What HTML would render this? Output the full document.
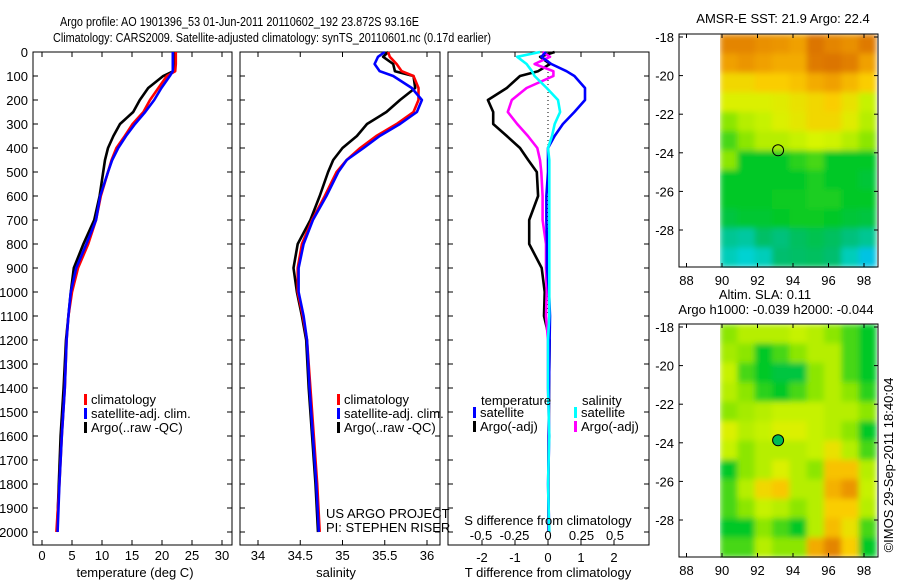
<!DOCTYPE html>
<html><head><meta charset="utf-8"><style>
html,body{margin:0;padding:0;background:#fff;}
svg{display:block;font-family:"Liberation Sans",sans-serif;}
text{font-size:13px;fill:#000;}
</style></head><body>
<svg id="fig" width="900" height="580" viewBox="0 0 900 580" xmlns="http://www.w3.org/2000/svg">
<defs>
<filter id="blur" x="0" y="0" width="1" height="1" filterUnits="objectBoundingBox"><feGaussianBlur stdDeviation="3" edgeMode="duplicate"/></filter>
</defs>
<text x="60" y="26" textLength="359" lengthAdjust="spacingAndGlyphs">Argo profile: AO 1901396_53 01-Jun-2011 20110602_192 23.872S 93.16E</text>
<text x="53" y="42" textLength="438" lengthAdjust="spacingAndGlyphs">Climatology: CARS2009. Satellite-adjusted climatology: synTS_20110601.nc (0.17d earlier)</text>
<g id="g"></g>
</svg>
<script>
// ---- data ----
const depthsUpper = [0,20,50,80,100,150,200,250,300,350,400,450,500,600,700,800,900,1000,1100];
const deepDepths = [1200,1400,1600,1800,2000];
const tempClim = [22.3,22.3,22.3,22.2,20.8,19.4,18,16.9,15.1,13.8,12.4,11.6,11,9.8,9,7.7,6,5,4.4];
const tempSat  = [21.8,21.8,21.8,21.8,21.3,19.9,18.7,17.2,15.5,14,12.7,11.7,11,9.7,9,7.4,5.7,4.8,4.4];
const tempArgo = [22.2,22.2,21.9,21.9,20.2,17.7,16.3,15.2,13,11.9,11,10.5,10.2,9.6,8.7,6.9,5.3,4.8,4.4];
const tempDeepClim = [4.1,3.8,3.3,2.9,2.4];
const tempDeepSat  = [4.1,3.8,3.3,2.9,2.6];
const tempDeepArgo = [4.0,3.6,3.1,2.8,2.5];
const salClim = [35.54,35.56,35.64,35.7,35.84,35.9,35.9,35.84,35.64,35.4,35.21,35.05,34.93,34.79,34.64,34.52,34.47,34.47,34.53];
const salSat  = [35.5,35.42,35.38,35.44,35.6,35.82,35.94,35.88,35.68,35.44,35.25,35.05,34.95,34.81,34.65,34.54,34.48,34.48,34.54];
const salArgo = [35.54,35.48,35.6,35.62,35.84,35.86,35.68,35.52,35.29,35.17,35.0,34.89,34.83,34.73,34.62,34.47,34.42,34.46,34.52];
const salDeepClim = [34.58,34.62,34.66,34.7,34.73];
const salDeepSat  = [34.58,34.61,34.65,34.69,34.72];
const salDeepArgo = [34.57,34.6,34.64,34.68,34.71];
const dTSat  = [-0.06,-0.2,0.1,0.56,0.8,1.12,1.12,0.8,0.45,0.2,0,0,0,-0.05,-0.05,-0.03,-0.03,0.03,0.06];
const dTArgo = [0.2,-0.24,0.06,-0.3,-0.85,-1.25,-1.82,-1.66,-1.66,-1.25,-0.85,-0.6,-0.34,-0.3,-0.57,-0.57,-0.19,-0.1,-0.12];
const dSSat  = [-0.06,-0.23,-0.16,-0.12,-0.1,-0.01,0.075,0.09,0.05,0.03,0,0.01,0.01,0.01,0.01,0.01,0.01,0.01,0.01];
const dSArgo = [-0.04,0.015,-0.1,0.04,0.04,-0.16,-0.27,-0.3,-0.23,-0.15,-0.08,-0.06,-0.05,-0.04,-0.04,-0.015,-0.015,-0.01,-0.015];
const dDeepT = [0.05,0.03,0.02,0.01,0.02];
const dDeepS = [0.0,0.0,0.01,0.0,0.01];
const depthTicks = [0,100,200,300,400,500,600,700,800,900,1000,1100,1200,1300,1400,1500,1600,1700,1800,1900,2000];
const tempTicks = [0,5,10,15,20,25,30];
const salTicks = [34,34.5,35,35.5,36];
const dTTicks = [-2,-1,0,1,2];
const dSTicks = [-0.5,-0.25,0,0.25,0.5];
const lonTicks = [88,90,92,94,96,98];
const latTicks = [-18,-20,-22,-24,-26,-28];
const sstGrid = [
[0.85,0.85,0.83,0.82,0.8,0.88,0.85,0.83,0.87],
[0.8,0.82,0.8,0.78,0.78,0.87,0.88,0.86,0.8],
[0.7,0.7,0.72,0.72,0.74,0.78,0.8,0.76,0.72],
[0.65,0.65,0.65,0.66,0.68,0.7,0.72,0.68,0.62],
[0.55,0.6,0.62,0.65,0.67,0.7,0.7,0.66,0.6],
[0.5,0.55,0.6,0.6,0.62,0.64,0.63,0.6,0.55],
[0.55,0.45,0.45,0.45,0.48,0.5,0.45,0.45,0.45],
[0.45,0.45,0.45,0.45,0.45,0.47,0.45,0.45,0.43],
[0.45,0.45,0.45,0.46,0.46,0.47,0.47,0.45,0.45],
[0.42,0.44,0.44,0.45,0.46,0.46,0.45,0.43,0.42],
[0.33,0.32,0.37,0.35,0.38,0.4,0.38,0.35,0.33],
[0.3,0.28,0.3,0.36,0.37,0.38,0.36,0.3,0.25]];
const slaGrid = [
[0.55,0.6,0.6,0.6,0.62,0.6,0.55,0.5,0.45],
[0.58,0.55,0.45,0.5,0.55,0.6,0.6,0.5,0.45],
[0.62,0.5,0.45,0.42,0.42,0.55,0.6,0.5,0.45],
[0.6,0.55,0.48,0.45,0.5,0.55,0.6,0.55,0.48],
[0.55,0.58,0.6,0.62,0.62,0.62,0.6,0.6,0.55],
[0.65,0.6,0.62,0.65,0.65,0.62,0.6,0.55,0.45],
[0.62,0.55,0.6,0.6,0.6,0.62,0.68,0.6,0.5],
[0.45,0.55,0.6,0.65,0.6,0.55,0.74,0.74,0.6],
[0.5,0.6,0.7,0.73,0.6,0.6,0.77,0.82,0.62],
[0.5,0.55,0.62,0.6,0.55,0.6,0.72,0.72,0.6],
[0.45,0.45,0.55,0.5,0.45,0.6,0.75,0.68,0.5],
[0.5,0.5,0.6,0.55,0.55,0.78,0.85,0.72,0.45]];
const argoLon = 93.16, argoLat = -23.87;

// ---- helpers ----
const NS = "http://www.w3.org/2000/svg";
const G = document.getElementById('g');
function mk(tag, attrs, parent){
  const e = document.createElementNS(NS, tag);
  for (const k in attrs) e.setAttribute(k, attrs[k]);
  (parent||G).appendChild(e); return e;
}
const TOP = 52, BOT = 545;
const yD = d => TOP + d*0.24;
const xT = v => 42 + v*6;
const xS = v => 258 + (v-34)*84.5;
const xDT = v => 548 + v*33;
const xDS = v => 548 + v*134;

function box(x0,x1,name){
  const r = mk('rect',{x:x0,y:TOP,width:x1-x0,height:BOT-TOP,fill:'none',stroke:'#000','stroke-width':1});
  
  
  depthTicks.forEach(d=>{
    mk('line',{x1:x0,x2:x0+5,y1:yD(d),y2:yD(d),stroke:'#000'});
    mk('line',{x1:x1,x2:x1-5,y1:yD(d),y2:yD(d),stroke:'#000'});
  });
}
function xticks(vals, f, x0, x1, labelY, name){
  vals.forEach(v=>{
    const x = f(v);
    mk('line',{x1:x,x2:x,y1:TOP,y2:TOP+5,stroke:'#000'});
    mk('line',{x1:x,x2:x,y1:BOT,y2:BOT-5,stroke:'#000'});
    if(labelY){
      const t = mk('text',{x:x,y:labelY,'text-anchor':'middle'});
      t.textContent = String(v);
      
      
    }
  });
}
function line(vals, deep, depths, f, color, name){
  const all = vals.concat(deep), ds = depths.concat(deepDepths);
  const pts = all.map((v,i)=>f(v).toFixed(1)+','+yD(ds[i]).toFixed(1)).join(' ');
  const p = mk('polyline',{points:pts,fill:'none',stroke:color,'stroke-width':2.6,'stroke-linejoin':'round'});
  
  
}
function legend(x, y, items){
  items.forEach((it,i)=>{
    mk('rect',{x:x,y:y+i*14-6,width:3,height:11,fill:it[0]});
    const t = mk('text',{x:x+7,y:y+i*14+4});
    t.textContent = it[1];
    
    
  });
}
function txt(x,y,s,name,anchor){
  const t = mk('text',{x:x,y:y,'text-anchor':anchor||'start'});
  t.textContent = s;
  
  
  return t;
}

// ---- panel 1: temperature ----
box(33,232,'temperature-panel');
depthTicks.forEach(d=>{
  const t = mk('text',{x:28,y:yD(d)+5,'text-anchor':'end'});
  t.textContent = String(d);
  
  
});
xticks(tempTicks, xT, 33, 232, 560, 'temperature-tick-label');
line(tempArgo, tempDeepArgo, depthsUpper, xT, '#000', 'temperature-argo-line');
line(tempClim, tempDeepClim, depthsUpper, xT, '#f00', 'temperature-climatology-line');
line(tempSat, tempDeepSat, depthsUpper, xT, '#00f', 'temperature-satellite-line');
legend(84, 400, [['#f00','climatology'],['#00f','satellite-adj. clim.'],['#000','Argo(..raw -QC)']]);
txt(135,577,'temperature (deg C)','temperature-axis-title','middle');

// ---- panel 2: salinity ----
box(240,440,'salinity-panel');
xticks(salTicks, xS, 240, 440, 560, 'salinity-tick-label');
line(salArgo, salDeepArgo, depthsUpper, xS, '#000', 'salinity-argo-line');
line(salClim, salDeepClim, depthsUpper, xS, '#f00', 'salinity-climatology-line');
line(salSat, salDeepSat, depthsUpper, xS, '#00f', 'salinity-satellite-line');
legend(337, 400, [['#f00','climatology'],['#00f','satellite-adj. clim.'],['#000','Argo(..raw -QC)']]);
txt(326,518,'US ARGO PROJECT','project-label');
txt(326,532,'PI: STEPHEN RISER','pi-label');
txt(336,577,'salinity','salinity-axis-title','middle');

// ---- panel 3: differences ----
box(448,649,'difference-panel');
dTTicks.forEach(v=>{
  const x=xDT(v);
  mk('line',{x1:x,x2:x,y1:TOP,y2:TOP+5,stroke:'#000'});
  mk('line',{x1:x,x2:x,y1:BOT,y2:BOT-5,stroke:'#000'});
  txt(x,562,String(v),'t-diff-tick-label','middle');
});
mk('line',{x1:548,x2:548,y1:TOP,y2:yD(1100),stroke:'#000','stroke-dasharray':'1,3'});
line(dTArgo, dDeepT, depthsUpper, xDT, '#000', 't-diff-argo-line');
line(dSArgo, dDeepS, depthsUpper, xDS, '#f0f', 's-diff-argo-line');
line(dTSat, dDeepT, depthsUpper, xDT, '#00f', 't-diff-satellite-line');
line(dSSat, dDeepS, depthsUpper, xDS, '#0ff', 's-diff-satellite-line');
txt(481,405,'temperature','legend-temperature-heading');
txt(582,405,'salinity','legend-salinity-heading');
legend(473, 413, [['#00f','satellite'],['#000','Argo(-adj)']]);
legend(574, 413, [['#0ff','satellite'],['#f0f','Argo(-adj)']]);
txt(548,525,'S difference from climatology','s-diff-axis-title','middle');
dSTicks.forEach(v=>{ txt(xDS(v),540,String(v),'s-diff-tick-label','middle'); });
txt(548,577,'T difference from climatology','t-diff-axis-title','middle');

// ---- maps ----
const stops = [[0.2,[0,170,255]],[0.28,[0,210,210]],[0.36,[0,190,110]],[0.45,[0,200,40]],[0.55,[140,230,0]],[0.64,[215,245,0]],[0.72,[250,205,0]],[0.8,[240,160,0]],[0.9,[215,105,0]]];
function cmap(v){
  if(v<=stops[0][0]) return 'rgb('+stops[0][1]+')';
  for(let i=1;i<stops.length;i++){
    if(v<=stops[i][0]){
      const a=stops[i-1],b=stops[i],t=(v-a[0])/(b[0]-a[0]);
      return 'rgb('+a[1].map((c,k)=>Math.round(c+(b[1][k]-c)*t)).join(',')+')';
    }
  }
  return 'rgb('+stops[stops.length-1][1]+')';
}
function map(grid, oy, name, titles, filledMarker){
  const X0=679,X1=878,Y0=34+oy,Y1=267+oy;
  const xL = lon => 722 + (lon-90)*17.75;
  const yL = lat => 37+oy + (-18-lat)*19.3;
  const dataX0 = 720, dataX1 = 876;
  const cw=(dataX1-dataX0)/grid[0].length, ch=(Y1-Y0)/grid.length;
  const cells = mk('g',{filter:'url(#blur)'});
  grid.forEach((row,r)=>row.forEach((v,c)=>{
    mk('rect',{x:(dataX0+c*cw).toFixed(1),y:(Y0+r*ch).toFixed(1),width:(cw+0.6).toFixed(1),height:(ch+0.6).toFixed(1),fill:cmap(v)}, cells);
  }));
  const b = mk('rect',{x:X0,y:Y0,width:X1-X0,height:Y1-Y0,fill:'none',stroke:'#000'});
  
  
  lonTicks.forEach(l=>{
    const x=xL(l);
    mk('line',{x1:x,x2:x,y1:Y0,y2:Y0+4,stroke:'#000'});
    mk('line',{x1:x,x2:x,y1:Y1,y2:Y1-4,stroke:'#000'});
    txt(x,Y1+18,String(l),'longitude-tick-label','middle');
  });
  latTicks.forEach(l=>{
    const y=yL(l);
    mk('line',{x1:X0,x2:X0+4,y1:y,y2:y,stroke:'#000'});
    mk('line',{x1:X1,x2:X1-4,y1:y,y2:y,stroke:'#000'});
    txt(674,y+5,String(l),'latitude-tick-label','end');
  });
  const m = mk('circle',{cx:xL(argoLon),cy:yL(argoLat),r:5.5,fill:filledMarker?'#0b5':'none',stroke:'#000','stroke-width':1});
  
  
  titles.forEach(t=>txt(t[0],t[1]+oy,t[2],'map-title','middle'));
}
map(sstGrid, 0, 'sst-map', [[783,23,'AMSR-E SST: 21.9 Argo: 22.4']], false);
map(slaGrid, 290, 'sla-map', [[765,9,'Altim. SLA: 0.11'],[776,24,'Argo h1000: -0.039 h2000: -0.044']], true);
const cr = txt(0,0,'©IMOS 29-Sep-2011 18:40:04','copyright-timestamp','middle');
cr.setAttribute('transform','translate(893,465) rotate(-90)');
</script>
</body></html>
